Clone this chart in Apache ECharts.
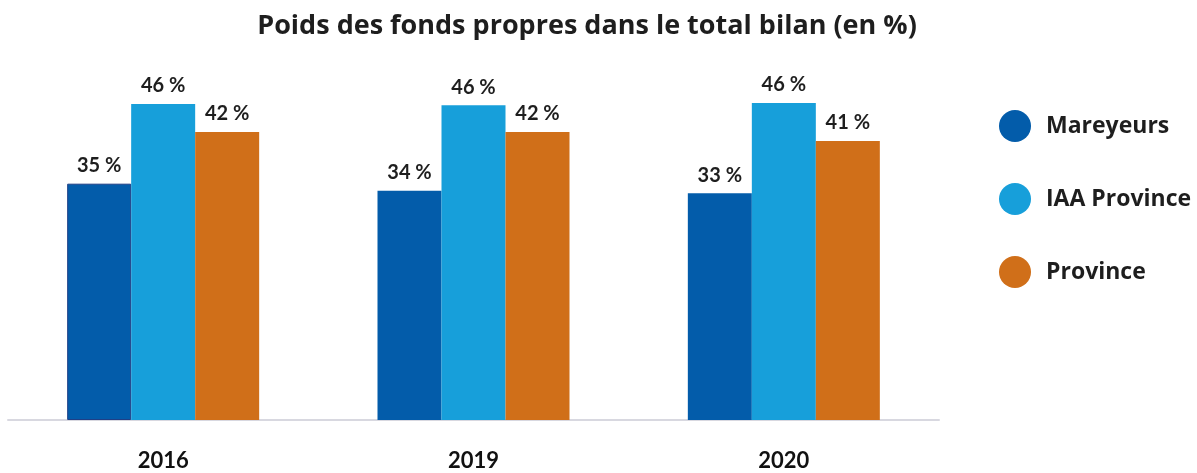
<!DOCTYPE html>
<html>
<head>
<meta charset="utf-8">
<script src="https://cdn.jsdelivr.net/npm/echarts@6/dist/echarts.min.js"></script>
<style>
  html, body { margin: 0; padding: 0; background: #fff; }
  #chart { width: 1197px; height: 473px; }
</style>
</head>
<body>
<div id="chart"></div>
<script>
// Poids des fonds propres dans le total bilan (en %)
const years = ['2016', '2019', '2020'];
const mareyeurs = [34.55, 33.5, 33.15];
const iaaProvince = [46.2, 46.0, 46.35];
const province = [42.1, 42.1, 40.8];

const FONT = "Lato, 'Open Sans', sans-serif";
const WIDE = "'Open Sans', Lato, sans-serif";
const TEXT = '#1e1e1e';

const chart = echarts.init(document.getElementById('chart'), null, { renderer: 'canvas' });

const labelStyle = {
  show: true,
  position: 'top',
  distance: 8,
  color: TEXT,
  fontFamily: FONT,
  fontWeight: 'bold',
  fontSize: 20,
  formatter: (p) => Math.round(p.value) + ' %',
};

chart.setOption({
  backgroundColor: '#fff',
  animation: false,
  title: {
    text: 'Poids des fonds propres dans le total bilan (en %)',
    left: 582,
    textAlign: 'center',
    top: 8,
    textStyle: { color: TEXT, fontFamily: WIDE, fontWeight: 'bold', fontSize: 27 },
  },
  legend: {
    orient: 'vertical',
    left: 994,
    top: 105,
    icon: 'circle',
    itemWidth: 32,
    itemHeight: 32,
    itemGap: 41,
    textStyle: {
      color: TEXT,
      fontFamily: WIDE,
      fontWeight: 'bold',
      fontSize: 23,
      padding: [0, 0, 0, 10],
    },
  },
  grid: { top: 78, bottom: 53, left: 8, right: 258 },
  xAxis: {
    type: 'category',
    data: years,
    axisLine: { lineStyle: { color: '#d8d8e0', width: 2 } },
    axisTick: { show: false },
    axisLabel: {
      color: '#111',
      fontFamily: FONT,
      fontWeight: 'bold',
      fontSize: 22,
      margin: 30,
    },
  },
  yAxis: {
    type: 'value',
    min: 0,
    max: 50,
    show: false,
    splitLine: { show: false },
  },
  series: [
    {
      name: 'Mareyeurs',
      type: 'bar',
      barWidth: 64,
      barGap: '0%',
      itemStyle: { color: '#035caa' },
      label: labelStyle,
      data: mareyeurs.map((v, i) =>
        i === 0 ? { value: v, itemStyle: { borderColor: '#1f3f86', borderWidth: 1 } } : v
      ),
    },
    {
      name: 'IAA Province',
      type: 'bar',
      barWidth: 64,
      barGap: '0%',
      itemStyle: { color: '#179fda' },
      label: labelStyle,
      data: iaaProvince,
    },
    {
      name: 'Province',
      type: 'bar',
      barWidth: 64,
      barGap: '0%',
      itemStyle: { color: '#d06f19' },
      label: labelStyle,
      data: province,
    },
  ],
});
</script>
</body>
</html>
